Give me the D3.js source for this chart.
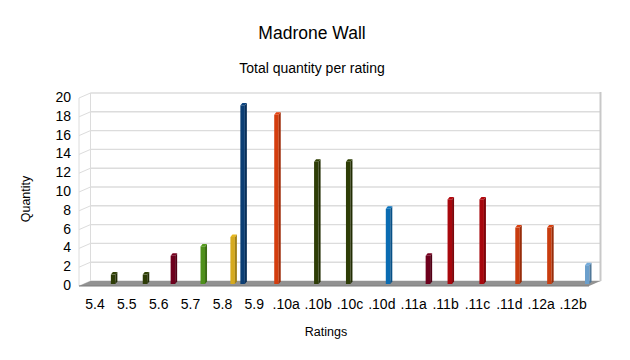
<!DOCTYPE html>
<html>
<head>
<meta charset="utf-8">
<script src="https://cdn.jsdelivr.net/npm/d3@7"></script>
<style>
  body { margin: 0; background: #fff; }
  text { font-family: "Liberation Sans", Arial, sans-serif; fill: #000; }
</style>
</head>
<body>
<div id="chart"></div>
<script>
// Ratings on the x axis
const ratings = ["5.4", "5.5", "5.6", "5.7", "5.8", "5.9", ".10a", ".10b", ".10c", ".10d",
    ".11a", ".11b", ".11c", ".11d", ".12a", ".12b"];
// Total quantity per rating
const quantities = [1, 1, 3, 4, 5, 19, 18, 13, 13, 8, 3, 9, 9, 6, 6, 2];
// Which series slot (0..16) the bar sits in inside its category
const seriesSlot = [16, 16, 14, 13, 12, 1, 2, 6, 6, 10, 14, 9, 9, 11, 11, 14];
// Y tick labels
const yTicks = [0, 2, 4, 6, 8, 10, 12, 14, 16, 18, 20];

// bar colours (LibreOffice palette, as shaded in the picture)
const barColors = ["#2e3d06", "#2e3d06", "#6e001d", "#4f901b", "#d6aa1e", "#0c3f75", "#d43d0e",
    "#2e3d06", "#2e3d06", "#0a6cb2", "#6e001d", "#a8070d", "#a8070d", "#c93c0e", "#c93c0e", "#6b9fcc"];

const width = 630, height = 360;

const svg = d3.select("#chart")
    .append("svg")
    .attr("width", width)
    .attr("height", height);

// front plane x range, depth offset for back wall
const x0 = 79, x1 = 589;
const DX = 11.5, DYF = 2, DYB = -3;

const x = d3.scaleBand()
    .domain(ratings)
    .range([x0, x1]);

const slot = d3.scaleLinear()
    .domain([0, 16])
    .range([0, x.bandwidth()]);

const y = d3.scaleLinear()
    .domain([0, 20])
    .range([284, 96]);

const grid = svg.append("g");

// back wall gridlines
grid.selectAll(".back")
    .data(yTicks)
    .enter()
    .append("line")
    .attr("x1", x0 + DX)
    .attr("x2", x1 + DX)
    .attr("y1", (d) => y(d) + DYB)
    .attr("y2", (d) => y(d) + DYB)
    .attr("stroke", "#dcdcdc")
    .attr("stroke-width", 1.4);

// left wall diagonals
grid.selectAll(".side")
    .data(yTicks)
    .enter()
    .append("line")
    .attr("x1", x0)
    .attr("x2", x0 + DX)
    .attr("y1", (d) => y(d) + DYF)
    .attr("y2", (d) => y(d) + DYB)
    .attr("stroke", "#dcdcdc")
    .attr("stroke-width", 1);

// wall edges
grid.append("line")
    .attr("x1", x0).attr("x2", x0)
    .attr("y1", y(20) + DYF).attr("y2", y(0) + DYF)
    .attr("stroke", "#dcdcdc");
grid.append("line")
    .attr("x1", x0 + DX).attr("x2", x0 + DX)
    .attr("y1", y(20) + DYB).attr("y2", y(0) + DYB)
    .attr("stroke", "#dcdcdc");
grid.append("line")
    .attr("x1", x1 + DX).attr("x2", x1 + DX)
    .attr("y1", y(20) + DYB - 1).attr("y2", y(0) + DYB)
    .attr("stroke", "#c8c8c8")
    .attr("stroke-width", 2);

// floor
svg.append("polygon")
    .attr("points", [
        [x0, y(0) + DYF], [x1, y(0) + DYF],
        [x1 + DX, y(0) + DYB], [x0 + DX, y(0) + DYB]
    ].join(" "))
    .attr("fill", "#929292");
svg.append("line")
    .attr("x1", x0).attr("x2", x1)
    .attr("y1", y(0) + DYF).attr("y2", y(0) + DYF)
    .attr("stroke", "#7c7c7c")
    .attr("stroke-width", 1.2);

// bars with a little 3D
const faceW = 4.5, sideW = 2, rise = 2.5;
const bars = svg.selectAll(".bar")
    .data(ratings.map((r, i) => ({ rating: r, value: quantities[i], slot: seriesSlot[i], color: barColors[i] })))
    .enter()
    .append("g")
    .attr("class", "bar");

bars.append("rect")
    .attr("x", (d) => x(d.rating) + slot(d.slot))
    .attr("y", (d) => y(d.value))
    .attr("width", faceW)
    .attr("height", (d) => y(0) - y(d.value))
    .attr("fill", (d) => d.color);

bars.append("polygon")
    .attr("points", (d) => {
        const bx = x(d.rating) + slot(d.slot) + faceW;
        return [[bx, y(d.value)], [bx + sideW, y(d.value) - rise],
            [bx + sideW, y(0) - rise], [bx, y(0)]].join(" ");
    })
    .attr("fill", (d) => d3.color(d.color).darker(0.8));

bars.append("polygon")
    .attr("points", (d) => {
        const bx = x(d.rating) + slot(d.slot);
        return [[bx, y(d.value)], [bx + sideW, y(d.value) - rise],
            [bx + faceW + sideW, y(d.value) - rise], [bx + faceW, y(d.value)]].join(" ");
    })
    .attr("fill", (d) => d3.color(d.color).brighter(0.2));

// y labels
svg.selectAll(".ylab")
    .data(yTicks)
    .enter()
    .append("text")
    .attr("x", 71)
    .attr("y", (d) => y(d) + 1)
    .attr("dy", "0.35em")
    .attr("text-anchor", "end")
    .style("font-size", "14px")
    .text((d) => d);

// x labels
svg.selectAll(".xlab")
    .data(ratings)
    .enter()
    .append("text")
    .attr("x", (d) => x(d) + x.bandwidth() / 2)
    .attr("y", 309)
    .attr("text-anchor", "middle")
    .style("font-size", "14px")
    .text((d) => d);

// titles
svg.append("text")
    .attr("x", 312)
    .attr("y", 39)
    .attr("text-anchor", "middle")
    .style("font-size", "17.5px")
    .text("Madrone Wall");

svg.append("text")
    .attr("x", 312)
    .attr("y", 73)
    .attr("text-anchor", "middle")
    .style("font-size", "14px")
    .text("Total quantity per rating");

svg.append("text")
    .attr("x", 326)
    .attr("y", 336)
    .attr("text-anchor", "middle")
    .style("font-size", "12.5px")
    .text("Ratings");

svg.append("text")
    .attr("transform", "translate(30,199) rotate(-90)")
    .attr("text-anchor", "middle")
    .style("font-size", "12.5px")
    .text("Quantity");
</script>
</body>
</html>
